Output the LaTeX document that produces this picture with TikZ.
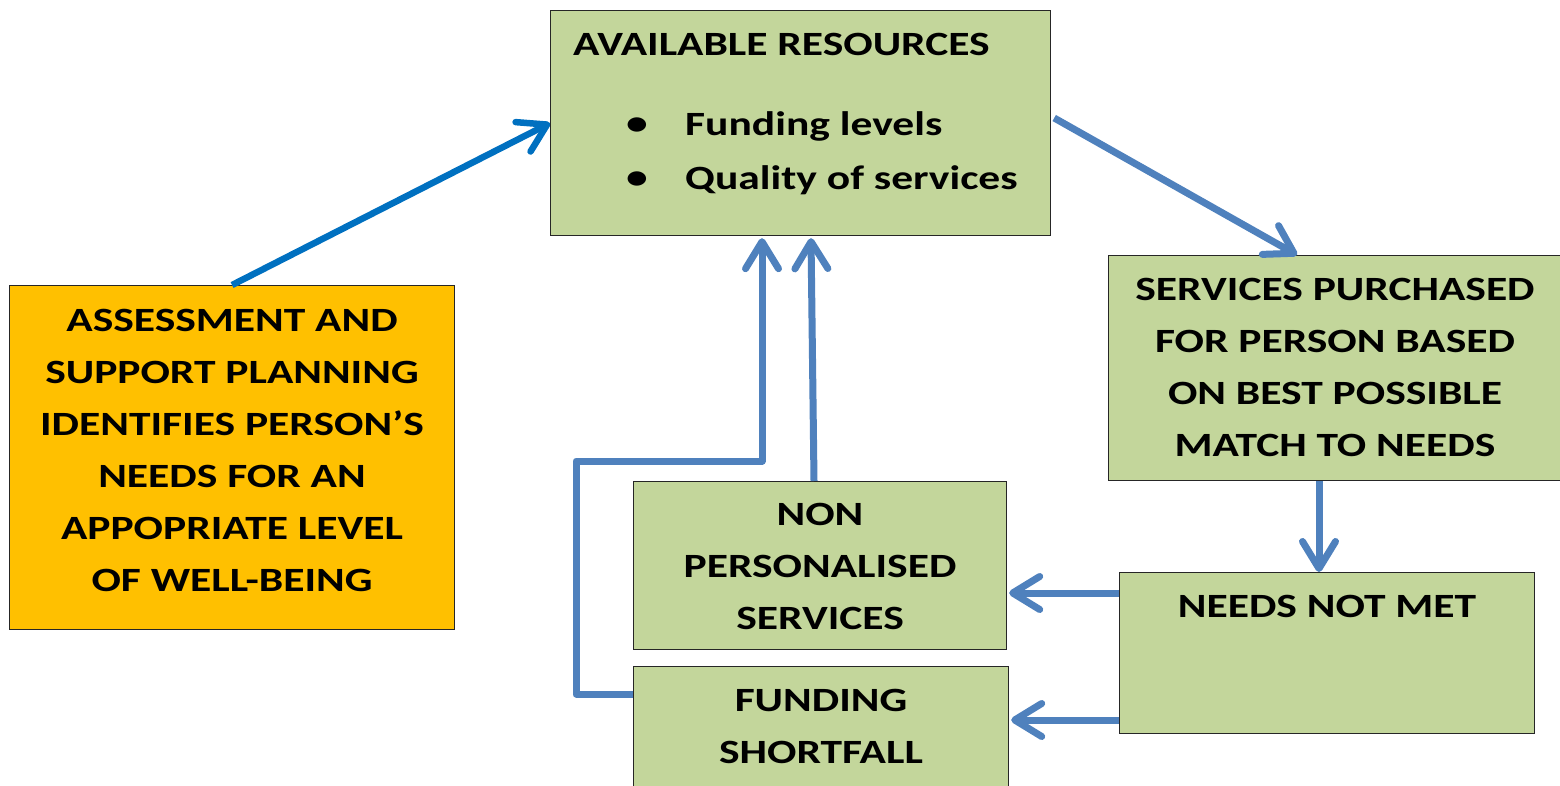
\documentclass[tikz,border=0pt]{standalone}
\usepackage{fontspec}
\setmainfont{Carlito}[FakeStretch=1.28]
\usetikzlibrary{arrows.meta,calc}
\definecolor{boxgreen}{HTML}{C3D69B}
\definecolor{boxorange}{HTML}{FFC000}
\definecolor{arrblue}{HTML}{4F81BD}
\definecolor{arrdark}{HTML}{0070C0}
\tikzset{
  box/.style={draw=black!85, line width=1.2pt, fill=boxgreen, anchor=north west, inner sep=0pt},
  obox/.style={box, fill=boxorange},
  lbl/.style={font=\bfseries\fontsize{34}{52}\selectfont, align=center, inner sep=0pt},
  flow/.style={draw=arrblue, line width=7pt, line join=round,
    -{Straight Barb[length=27pt,width=33pt,round]}},
  flowdark/.style={flow, draw=arrdark, line width=6.5pt},
}
\begin{document}
\begin{tikzpicture}[x=1pt,y=-1pt]
\useasboundingbox (0,0) rectangle (1560,786);
\clip (0,0) rectangle (1560,786);
% boxes
\node[box, minimum width=500, minimum height=225] (ar) at (550,10) {};
\node[obox, minimum width=445, minimum height=344] (asm) at (9,285) {};
\node[box, minimum width=470, minimum height=225] (sp) at (1108,255) {};
\node[box, minimum width=415, minimum height=161] (nm) at (1119,572) {};
\node[box, minimum width=373, minimum height=168] (np) at (633,481) {};
\node[box, minimum width=375, minimum height=150] (fs) at (633,666) {};
% texts
\node[lbl, anchor=west] (art) at (573,44) {AVAILABLE RESOURCES};
\node[lbl, anchor=center] (b1) at (637,126) {\textbullet};
\node[lbl, anchor=west] (t1) at (685,126) {Funding levels};
\node[lbl, anchor=center] (b2) at (637,180) {\textbullet};
\node[lbl, anchor=west] (t2) at (685,180) {Quality of services};
\node[lbl] (asmt) at (232,450) {ASSESSMENT AND\\SUPPORT PLANNING\\IDENTIFIES PERSON’S\\NEEDS FOR AN\\APPOPRIATE LEVEL\\OF WELL-BEING};
\node[lbl] (spt) at (1335,367) {SERVICES PURCHASED\\FOR PERSON BASED\\ON BEST POSSIBLE\\MATCH TO NEEDS};
\node[lbl] (nmt) at (1327,606) {NEEDS NOT MET};
\node[lbl] (npt) at (820,566) {NON\\PERSONALISED\\SERVICES};
\node[lbl] (fst) at (821,726) {FUNDING\\SHORTFALL};
% connectors
\draw[flowdark] (asm.north) -- (ar.west);
\draw[flow] ($(ar.north east)+(3,108)$) -- ($(sp.north west)+(189,0)$);
\draw[flow] ($(sp.south west)+(211,0)$) -- ($(nm.north west)+(200,0)$);
\draw[flow] ($(nm.north west)+(0,21)$) -- ($(np.north east)+(2,112)$);
\draw[flow] ($(nm.north west)+(0,148)$) -- ($(fs.north east)+(2,54)$);
\draw[flow] ($(np.north west)+(181,0)$) -- ($(ar.south west)+(261,2)$);
\draw[flow] ($(fs.north west)+(0,28)$) -- (576,694) -- (576,461) -- (762,461) -- ($(ar.south west)+(212,2)$);
\end{tikzpicture}
\end{document}
